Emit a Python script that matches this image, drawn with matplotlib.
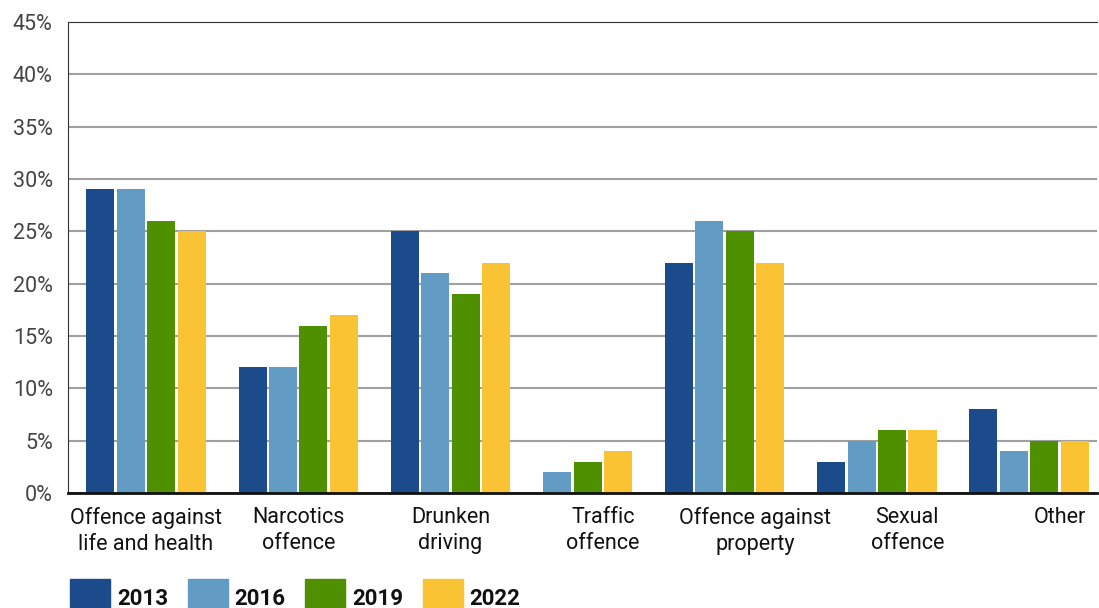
import matplotlib
matplotlib.use("Agg")
import matplotlib.pyplot as plt
from matplotlib.patches import Rectangle
import numpy as np

categories = ["Offence against\nlife and health", "Narcotics\noffence", "Drunken\ndriving",
              "Traffic\noffence", "Offence against\nproperty", "Sexual\noffence", "Other"]
years = ["2013", "2016", "2019", "2022"]
v2013 = [29, 12, 25, None, 22, 3, 8]
v2016 = [29, 12, 21, 2, 26, 5, 4]
v2019 = [26, 16, 19, 3, 25, 6, 5]
v2022 = [25, 17, 22, 4, 22, 6, 5]
series = [v2013, v2016, v2019, v2022]
colors = ["#1c4b8c", "#629bc3", "#4e9000", "#f9c333"]
yticks = [0, 5, 10, 15, 20, 25, 30, 35, 40, 45]

plt.rcParams['font.family'] = ['Roboto', 'DejaVu Sans']

fig = plt.figure(figsize=(10.99, 6.08), dpi=100)
ax = fig.add_axes([68/1099, 1 - 493/608, (1097-68)/1099, (493-22)/608])

# sequential slot layout: missing values take no slot, one empty slot between groups
slot = 0
xs = [[None]*len(categories) for _ in series]
for ci in range(len(categories)):
    for si, s in enumerate(series):
        if s[ci] is not None:
            xs[si][ci] = slot
            slot += 1
    slot += 1

for si, s in enumerate(series):
    px = [xs[si][ci] for ci in range(len(categories)) if s[ci] is not None]
    pv = [s[ci] for ci in range(len(categories)) if s[ci] is not None]
    ax.bar(px, pv, width=0.92, color=colors[si], zorder=3)

ax.set_xlim(-1.06, 32.73)
ax.set_ylim(0, 45)
ax.set_yticks(yticks)
ax.set_yticklabels([f"{t}%" for t in yticks], fontsize=15.5, color="#444444")
ax.set_xticks([1.5 + 5*i for i in range(len(categories))])
ax.set_xticklabels(categories, fontsize=15.5, color="#111111", linespacing=1.3)
ax.tick_params(axis='both', length=0)
ax.tick_params(axis='y', pad=11)
ax.tick_params(axis='x', pad=10)
ax.yaxis.grid(True, color="#a0a0a0", linewidth=1.5, zorder=0)
ax.set_axisbelow(True)
for sp in ["right"]:
    ax.spines[sp].set_visible(False)
ax.spines["top"].set_color("#333333")
ax.spines["left"].set_color("#333333")
ax.spines["bottom"].set_color("#111111")
ax.spines["bottom"].set_linewidth(2)
ax.spines["bottom"].set_zorder(4)

# legend
W, H = 1099, 608
lx = 70
for si, y in enumerate(years):
    x0 = lx + si*117.5
    fig.add_artist(Rectangle((x0/W, 1 - 612/H), 40/W, 33/H, transform=fig.transFigure,
                             color=colors[si], clip_on=False))
    fig.text((x0 + 47)/W, 1 - 605/H, y, fontsize=16, fontweight='semibold', color="#111111",
             ha='left', va='baseline')

fig.savefig("out.png", dpi=100)
